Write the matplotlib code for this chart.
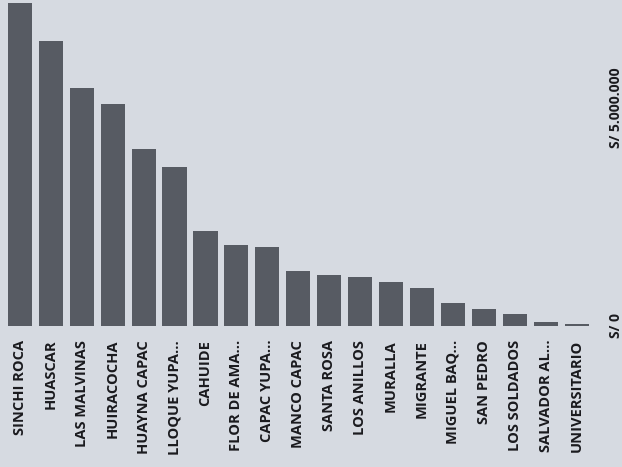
import matplotlib.pyplot as plt

barrios = ['SINCHI ROCA', 'HUASCAR', 'LAS MALVINAS', 'HUIRACOCHA', 'HUAYNA CAPAC',
           'LLOQUE YUPA...', 'CAHUIDE', 'FLOR DE AMA...', 'CAPAC YUPA...', 'MANCO CAPAC',
           'SANTA ROSA', 'LOS ANILLOS', 'MURALLA', 'MIGRANTE', 'MIGUEL BAQ...',
           'SAN PEDRO', 'LOS SOLDADOS', 'SALVADOR AL...', 'UNIVERSITARIO']
montos = [7410000, 6540000, 5460000, 5090000, 4060000, 3650000, 2180000, 1860000,
          1810000, 1260000, 1170000, 1120000, 1010000, 870000, 530000, 390000,
          280000, 90000, 50000]
ticks_y = [0, 5000000]
ticks_y_labels = ['S/ 0', 'S/ 5.000.000']

fondo = '#d6dae1'

fig = plt.figure(figsize=(6.22, 4.67), dpi=100, facecolor=fondo)
ax = fig.add_axes([0.007, 0.302, 0.945, 0.698], facecolor=fondo)

ax.bar(range(len(barrios)), montos, width=0.78, color='#575b63')

ax.set_xlim(-0.5, len(barrios) - 0.5)
ax.set_ylim(0, 7480000)
ax.set_xticks(range(len(barrios)))
ax.set_xticklabels(barrios, rotation=90, fontsize=10.5, fontweight='bold',
                   family='Open Sans', color='#1a1a1e')
ax.yaxis.tick_right()
ax.set_yticks(ticks_y)
ax.set_yticklabels(ticks_y_labels, rotation=90, va='center', fontsize=10,
                   fontweight='bold', family='Open Sans', color='#1a1a1e')
ax.tick_params(axis='x', length=0, pad=10)
ax.tick_params(axis='y', length=0, pad=12)
for s in ax.spines.values():
    s.set_visible(False)

fig.savefig('out.png', facecolor=fondo)
